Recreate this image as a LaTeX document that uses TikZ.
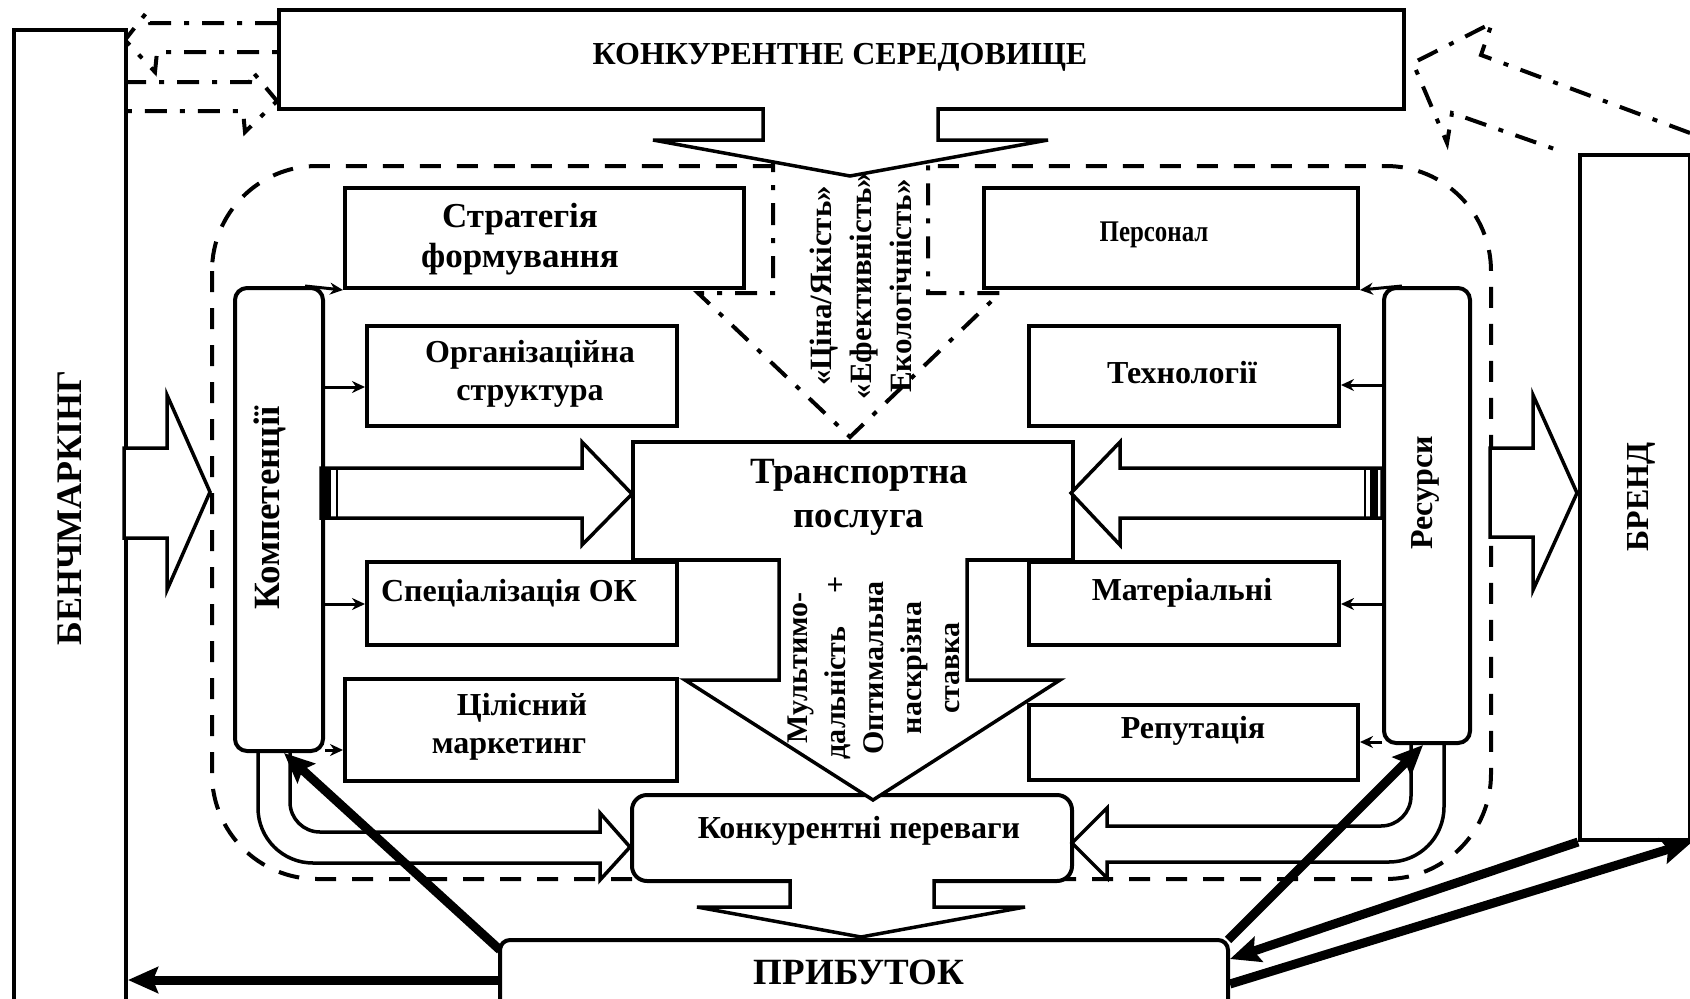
\documentclass[tikz,border=0pt]{standalone}
\usepackage{fontspec}
\setmainfont{Liberation Serif}
\usetikzlibrary{arrows.meta}
\begin{document}
\begin{tikzpicture}[x=1pt,y=-1pt,
  box/.style={draw, line width=4pt, fill=white, inner sep=0pt, anchor=north west},
  rbox/.style={box, rounded corners=12pt},
  hollow/.style={draw, line width=3.5pt, fill=white, line join=miter},
  bent/.style={draw, line width=3.5pt, line join=miter},
  dashdot/.style={draw, line width=4pt, dash pattern=on 22pt off 13pt on 5pt off 13pt},
  border/.style={draw, line width=4pt, dash pattern=on 21pt off 16pt, rounded corners=105pt},
  thinarrow/.style={line width=3pt, -{Stealth[length=13pt,width=12pt]}},
  heavy/.style={line width=9pt, -{Stealth[length=30pt,width=26pt,inset=5pt]}},
  lbl/.style={font=\fontsize{32}{38}\selectfont\bfseries, align=center, inner sep=0pt},
  head/.style={font=\fontsize{32}{36}\selectfont\bfseries, align=center, inner sep=0pt},
]
\useasboundingbox (0,0) rectangle (1690,999);

% outer dashed frame of the service system
\draw[border] (212,166) rectangle (1491,879);

% dash-dot feedback arrows between environment, benchmarking and brand
\draw[dashdot] (277,23) -- (150,23) -- (147,12) -- (125,40) -- (155,72) -- (157,52) -- (277,52);
\draw[dashdot] (124,82) -- (250,82) -- (252,71) -- (277,101) -- (245,132) -- (243,111) -- (124,111);
\draw[dashdot] (1690,133) -- (1481,55) -- (1492,23) -- (1413,63) -- (1447,143) -- (1452,113) -- (1563,152);
\fill[white] (773,150) -- (773,293) -- (698,293) -- (850,437) -- (1000,293) -- (928,293) -- (928,150) -- cycle;
\draw[dashdot] (773,150) -- (773,293) -- (698,293) -- (850,437) -- (1000,293) -- (928,293) -- (928,150);

% main blocks
\node[box, minimum width=112pt, minimum height=990pt] (bench) at (12,28) {};
\node[box, minimum width=1125pt, minimum height=99pt] (env) at (277,8) {};
\node[box, minimum width=110pt, minimum height=685pt] (brand) at (1578,153) {};

% wide hollow arrows
\draw[hollow] (124,448) -- (167,448) -- (167,395) -- (210,492) -- (167,590) -- (167,538) -- (124,538) -- cycle;
\draw[hollow] (1490,448) -- (1533,448) -- (1533,395) -- (1577,493) -- (1533,590) -- (1533,537) -- (1490,537) -- cycle;
\draw[hollow] (763,107) -- (763,140) -- (653,140) -- (850,176) -- (1048,140) -- (938,140) -- (938,107);

% inner blocks
\node[box, minimum width=399pt, minimum height=100pt] (strat) at (343,186) {};
\node[box, minimum width=374pt, minimum height=100pt] (pers) at (982,186) {};
\node[rbox, minimum width=88pt, minimum height=463pt] (komp) at (233,286) {};
\node[rbox, minimum width=86pt, minimum height=455pt] (res) at (1382,286) {};
\node[box, minimum width=310pt, minimum height=100pt] (org) at (365,324) {};
\node[box, minimum width=310pt, minimum height=100pt] (tech) at (1027,324) {};
\node[box, minimum width=440pt, minimum height=118pt] (transp) at (631,440) {};
\node[box, minimum width=310pt, minimum height=83pt] (spec) at (365,560) {};
\node[box, minimum width=310pt, minimum height=83pt] (mat) at (1027,560) {};
\node[box, minimum width=332pt, minimum height=102pt] (cil) at (343,677) {};
\node[box, minimum width=329pt, minimum height=75pt] (rep) at (1027,703) {};
\node[box, rounded corners=15pt, minimum width=440pt, minimum height=86pt] (kp) at (630,793) {};
\node[box, rounded corners=10pt, minimum width=728pt, minimum height=80pt] (prib) at (498,938) {};

% hollow arrows into the transport service
\draw[hollow] (321,468) -- (582,468) -- (582,442) -- (632,494) -- (582,545) -- (582,518) -- (321,518) -- cycle;
\draw[line width=8pt] (327,468) -- (327,518);
\draw[line width=2pt] (337,468) -- (337,518);
\draw[hollow] (1382,468) -- (1120,468) -- (1120,442) -- (1071,493) -- (1120,545) -- (1120,518) -- (1382,518) -- cycle;
\draw[line width=8pt] (1374,468) -- (1374,518);
\draw[line width=2pt] (1365,468) -- (1365,518);

% hollow arrows towards competitive advantages and profit
\draw[hollow] (779,558) -- (779,680) -- (685,680) -- (873,800) -- (1060,680) -- (967,680) -- (967,558);
\draw[hollow] (790,879) -- (790,907) -- (697,907) -- (861,937) -- (1025,907) -- (934,907) -- (934,879);
\draw[bent] [rounded corners=55pt] (258,749) -- (258,863) [sharp corners] -- (600,863) -- (600,880) -- (630,847) -- (600,813) -- (600,832) [rounded corners=30pt] -- (290,832) [sharp corners] -- (290,749);
\draw[bent] [rounded corners=55pt] (1444,741) -- (1444,862) [sharp corners] -- (1107,862) -- (1107,878) -- (1072,843) -- (1107,808) -- (1107,826) [rounded corners=30pt] -- (1411,826) [sharp corners] -- (1411,741);

% thin links from competences and resources
\draw[thinarrow] ([xshift=-20pt]komp.north east) -- (strat.south west);
\draw[thinarrow] (komp.east |- 0,387) -- (org.west |- 0,387);
\draw[thinarrow] (komp.east |- 0,604) -- (spec.west |- 0,604);
\draw[thinarrow] (komp.east |- 0,750) -- (cil.west |- 0,750);
\draw[thinarrow] ([xshift=20pt]res.north west) -- (pers.south east);
\draw[thinarrow] (res.west |- 0,385) -- (tech.east |- 0,385);
\draw[thinarrow] (res.west |- 0,604) -- (mat.east |- 0,604);
\draw[thinarrow] (res.west |- 0,742) -- (rep.east |- 0,742);

% profit feedback
\draw[heavy] (prib.west |- 0,980) -- (bench.east |- 0,980);
\draw[heavy] ([shift={(2pt,-12pt)}]prib.north west) -- ([xshift=5pt]komp.south);
\draw[heavy] ([shift={(-2pt,-2pt)}]prib.north east) -- ([xshift=-4pt]res.south);
\draw[heavy] (brand.south west) -- ([yshift=21pt]prib.east);
\draw[heavy] ([yshift=-4pt]prib.east) -- (brand.south east);

% labels
\node[head] at (840,57) {КОНКУРЕНТНЕ СЕРЕДОВИЩЕ};
\node[head, font=\fontsize{36}{40}\selectfont\bfseries, rotate=90] at (70,508) {БЕНЧМАРКІНГ};
\node[head, rotate=90] at (1641,497) {БРЕНД};
\node[head, font=\fontsize{37}{40}\selectfont\bfseries] at (859,972) {ПРИБУТОК};
\node[lbl, font=\fontsize{37}{44}\selectfont\bfseries] at (859,497) {Транспортна\\послуга};
\node[lbl, font=\fontsize{35}{40}\selectfont\bfseries] at (520,239) {Стратегія\\формування};
\node[lbl, font=\fontsize{30}{34}\selectfont\bfseries] at (1154,235) {\scalebox{0.83}[1]{Персонал}};
\node[lbl] at (530,374) {Організаційна\\структура};
\node[lbl] at (1182,373) {Технології};
\node[lbl] at (509,593) {Спеціалізація ОК};
\node[lbl] at (1182,593) {Матеріальні};
\node[lbl] at (509,727) {\hspace*{26pt}Цілісний\\маркетинг};
\node[lbl] at (1193,731) {Репутація};
\node[lbl] at (859,831) {Конкурентні переваги};
\node[lbl, font=\fontsize{37}{40}\selectfont\bfseries, rotate=90] at (270,508) {Компетенції};
\node[lbl, rotate=90] at (1425,493) {Ресурси};
\node[lbl, font=\fontsize{31}{40}\selectfont\bfseries, rotate=90] at (861,286) {«Ціна/Якість»\\«Ефективність»\\Екологічність»};
\node[lbl, font=\fontsize{30}{38}\selectfont\bfseries, rotate=90] at (874,668) {Мультимо-\\дальність\hspace{1.1em}+\\Оптимальна\\наскрізна\\ставка};
\end{tikzpicture}
\end{document}
